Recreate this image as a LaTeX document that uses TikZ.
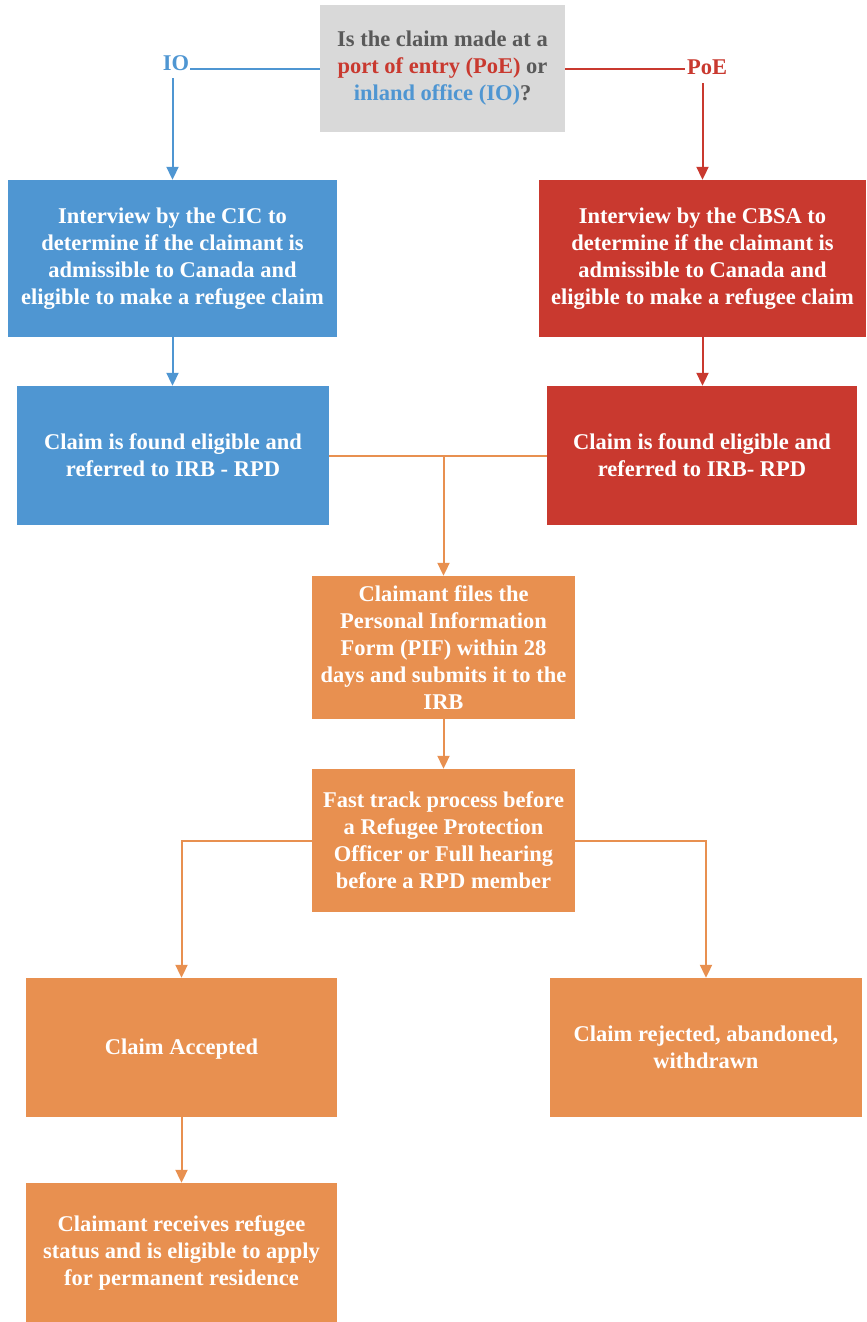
\documentclass[tikz,border=0pt]{standalone}
\usepackage{fontspec}
\setmainfont{Liberation Serif}[BoldFont={Liberation Serif Bold}]
\usetikzlibrary{arrows.meta}
\definecolor{cblue}{RGB}{79,150,210}
\definecolor{cred}{RGB}{201,57,47}
\definecolor{corange}{RGB}{232,144,80}
\definecolor{cgray}{RGB}{217,217,217}
\definecolor{ctext}{RGB}{89,89,89}
\tikzset{
  box/.style={rectangle, inner sep=0pt, align=center, text=white,
    font=\fontsize{22.5}{27}\selectfont\bfseries,
    execute at begin node={\rule{0pt}{19.5pt}}},
  bluebox/.style={box, fill=cblue},
  redbox/.style={box, fill=cred},
  orbox/.style={box, fill=corange},
  conn/.style={line width=2pt},
  arr/.style={conn, -{Triangle[length=13pt,width=12pt]}},
  lbl/.style={inner sep=0pt, font=\fontsize{22.5}{27}\selectfont\bfseries}
}
\begin{document}
\begin{tikzpicture}[x=1pt,y=-1pt]
\useasboundingbox (0,0) rectangle (867,1322);
% question
\node[box, fill=cgray, text=ctext, minimum width=245pt, minimum height=127pt] (q) at (442.5,68.5)
  {Is the claim made at a\\\textcolor{cred}{port of entry (PoE)} or\\\textcolor{cblue}{inland office (IO)}?};
\node[lbl, text=cblue] (io) at (176,63) {IO};
\node[lbl, text=cred] (poe) at (707,67) {PoE};
% first row
\node[bluebox, minimum width=329pt, minimum height=157pt] (b1) at (172.5,258.5)
  {Interview by the CIC to\\determine if the claimant is\\admissible to Canada and\\eligible to make a refugee claim};
\node[redbox, minimum width=327pt, minimum height=157pt] (r1) at (702.5,258.5)
  {Interview by the CBSA to\\determine if the claimant is\\admissible to Canada and\\eligible to make a refugee claim};
% second row
\node[bluebox, minimum width=312pt, minimum height=139pt] (b2) at (173,455.5)
  {Claim is found eligible and\\referred to IRB - RPD};
\node[redbox, minimum width=310pt, minimum height=139pt] (r2) at (702,455.5)
  {Claim is found eligible and\\referred to IRB- RPD};
% orange
\node[orbox, minimum width=263pt, minimum height=143pt] (pif) at (443.5,647.5)
  {Claimant files the\\Personal Information\\Form (PIF) within 28\\days and submits it to the\\IRB};
\node[orbox, minimum width=263pt, minimum height=143pt] (ft) at (443.5,840.5)
  {Fast track process before\\a Refugee Protection\\Officer or Full hearing\\before a RPD member};
\node[orbox, minimum width=311pt, minimum height=139pt] (acc) at (181.5,1047.5)
  {Claim Accepted};
\node[orbox, minimum width=312pt, minimum height=139pt] (rej) at (706,1047.5)
  {Claim rejected, abandoned,\\withdrawn};
\node[orbox, minimum width=311pt, minimum height=139pt] (fin) at (181.5,1252.5)
  {Claimant receives refugee\\status and is eligible to apply\\for permanent residence};
% connectors
\coordinate (ioline) at (190,69);
\coordinate (poeline) at (685,69);
\draw[conn, cblue] (q.west |- ioline) -- (ioline);
\draw[arr, cblue] (b1.north |- 0,78) -- (b1.north);
\draw[conn, cred] (q.east |- poeline) -- (poeline);
\draw[arr, cred] (r1.north |- 0,83) -- (r1.north);
\draw[arr, cblue] (b1.south) -- (b1.south |- b2.north);
\draw[arr, cred] (r1.south) -- (r1.south |- r2.north);
\coordinate (m) at (443.5,456);
\draw[conn, corange] (b2.east |- m) -- (r2.west |- m);
\draw[arr, corange] (m) -- (pif.north);
\draw[arr, corange] (pif.south) -- (ft.north);
\draw[arr, corange] (ft.west) -| (acc.north);
\draw[arr, corange] (ft.east) -| (rej.north);
\draw[arr, corange] (acc.south) -- (fin.north);
\end{tikzpicture}
\end{document}
